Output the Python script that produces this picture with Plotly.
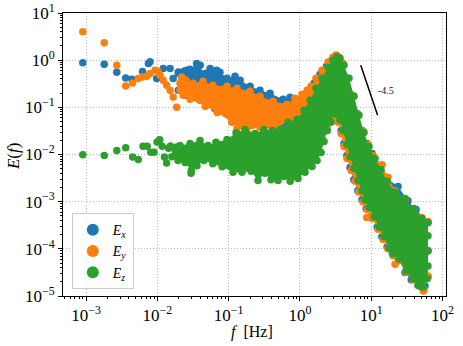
import plotly.graph_objects as go
import numpy as np

# ---- data (f in Hz, E(f)) ----
# isolated low-frequency points
ex_f = [0.0009, 0.0018, 0.0027, 0.0036, 0.0044, 0.0062, 0.0075, 0.0079, 0.0098, 0.0121,
        0.0151, 0.0167, 0.0197, 0.0256, 0.0356, 0.040, 0.055, 0.068]
ex_e = [0.88, 0.82, 0.555, 0.42, 0.394, 0.575, 0.85, 0.92, 0.41, 0.666,
        0.666, 0.41, 0.564, 0.61, 0.85, 0.78, 0.666, 0.61]

ey_f = [0.0009, 0.0018, 0.0027, 0.0036, 0.0045, 0.0054, 0.0062, 0.0071, 0.0079, 0.0093,
        0.0102, 0.0109, 0.0121, 0.0135, 0.0151, 0.0167, 0.0187, 0.0208, 0.022, 0.0245,
        8.65, 21.6, 53.8]
ey_e = [4.0, 2.33, 0.78, 0.284, 0.33, 0.41, 0.44, 0.457, 0.52, 0.61,
        0.58, 0.48, 0.375, 0.294, 0.23, 0.166, 0.101, 0.23, 0.44, 0.254,
        0.00046, 0.000047, 0.0000128]

ez_f = [0.0009, 0.0018, 0.0027, 0.0036, 0.0045, 0.0054, 0.0063, 0.0072, 0.0081, 0.009,
        0.0099, 0.0108, 0.0117, 0.0126, 0.0135, 0.0144, 0.0153, 0.0187, 0.0297]
ez_e = [0.0099, 0.0095, 0.0122, 0.0139, 0.0088, 0.0078, 0.015, 0.015, 0.0112, 0.0112,
        0.0183, 0.0206, 0.015, 0.0088, 0.0066, 0.0135, 0.0152, 0.0144, 0.0040]

# outline of the dense part of each cloud (upper edge, then lower edge back)
ex_band_f = [0.0197, 0.0237, 0.0288, 0.036, 0.048, 0.060, 0.0757, 0.095, 0.123, 0.145,
             0.20, 0.275, 0.381, 0.58, 0.726, 0.91, 1.14, 1.33, 1.58, 1.92,
             2.36, 2.80, 3.11, 3.42, 3.89, 4.56, 5.3, 6.35, 7.43, 8.77,
             10.3, 13.3, 16.7, 23.8, 32.7, 42.5, 62.5, 62.5, 62.5, 56.8,
             50.0, 36.4, 29.8, 24.5, 19.8, 16.7, 14.1, 12.1, 10.0, 8.5,
             7.43, 6.5, 5.7, 5.04, 4.56, 4.15, 3.78, 3.42, 3.2, 3.0,
             2.73, 2.4, 1.63, 1.0, 0.526, 0.275, 0.17, 0.111, 0.064, 0.040,
             0.0245, 0.0197]
ex_band_e = [0.53, 0.58, 0.64, 0.78, 0.53, 0.58, 0.555, 0.414, 0.457, 0.375,
             0.28, 0.23, 0.198, 0.148, 0.163, 0.141, 0.163, 0.219, 0.324, 0.50,
             0.745, 1.0, 1.16, 1.10, 0.86, 0.414, 0.18, 0.074, 0.0324, 0.0171,
             0.0105, 0.0058, 0.0031, 0.0021, 0.00105, 0.00068, 0.00036, 0.0000906, 0.0000253, 0.0000163,
             0.0000155, 0.000022, 0.0000314, 0.000058, 0.000079, 0.00011, 0.00018, 0.00029, 0.00048, 0.00071,
             0.0011, 0.0017, 0.0029, 0.0053, 0.0095, 0.0171, 0.0324, 0.053, 0.071, 0.078,
             0.055, 0.0324, 0.0122, 0.0199, 0.041, 0.043, 0.036, 0.058, 0.095, 0.141,
             0.18, 0.23]

ey_band_f = [0.0208, 0.0252, 0.0317, 0.0438, 0.060, 0.095, 0.131, 0.20, 0.275, 0.42,
             0.66, 0.85, 1.07, 1.26, 1.43, 1.68, 2.04, 2.48, 2.90, 3.2,
             3.53, 4.0, 4.7, 5.5, 6.5, 7.66, 9.0, 10.6, 14.2, 17.2,
             21.6, 29.8, 39.7, 51.5, 62.5, 62.5, 62.5, 55.0, 46.4, 38.5,
             30.9, 24.5, 20.2, 17.1, 14.6, 12.5, 10.3, 8.77, 7.66, 6.7,
             5.93, 5.25, 4.56, 4.15, 3.78, 3.42, 3.2, 3.11, 2.8, 2.4,
             2.04, 1.63, 1.0, 0.81, 0.447, 0.275, 0.18, 0.131, 0.111, 0.069,
             0.047, 0.0288, 0.023]
ey_band_e = [0.324, 0.375, 0.324, 0.357, 0.294, 0.28, 0.254, 0.219, 0.171, 0.134,
             0.116, 0.155, 0.189, 0.23, 0.28, 0.414, 0.61, 0.91, 1.16, 1.28,
             1.16, 0.86, 0.414, 0.18, 0.071, 0.031, 0.0163, 0.0095, 0.0061, 0.0033,
             0.0017, 0.0011, 0.00071, 0.00046, 0.00038, 0.0000906, 0.0000267, 0.0000137, 0.0000163, 0.000022,
             0.000032, 0.0000556, 0.000071, 0.0001, 0.00016, 0.00026, 0.00044, 0.00068, 0.001, 0.0016,
             0.0027, 0.0046, 0.0082, 0.0148, 0.028, 0.048, 0.064, 0.082, 0.055, 0.038,
             0.0219, 0.0122, 0.0324, 0.061, 0.034, 0.0376, 0.0324, 0.036, 0.048, 0.078,
             0.105, 0.148, 0.18]

ez_band_f = [0.0160, 0.0208, 0.0288, 0.0397, 0.0514, 0.0665, 0.095, 0.127, 0.170, 0.235,
             0.313, 0.41, 0.526, 0.68, 0.91, 1.14, 1.39, 1.68, 2.04, 2.48,
             2.90, 3.32, 3.65, 4.15, 4.88, 5.74, 6.74, 7.93, 9.31, 11.3,
             13.7, 16.7, 21.6, 29.8, 39.8, 51.5, 62.5, 62.5, 62.5, 62.5,
             60.7, 53.2, 45.2, 38.5, 30.8, 24.5, 20.2, 17.8, 15.1, 12.9,
             11.0, 9.31, 8.19, 7.43, 6.53, 5.74, 5.04, 4.56, 4.03, 3.65,
             3.32, 3.0, 2.73, 2.40, 2.18, 1.98, 1.74, 1.48, 1.18, 0.94,
             0.73, 0.598, 0.493, 0.393, 0.324, 0.258, 0.206, 0.154, 0.115, 0.081,
             0.060, 0.045, 0.036, 0.030, 0.0245, 0.0195, 0.016]
ez_band_e = [0.0141, 0.0155, 0.0171, 0.0199, 0.0155, 0.0181, 0.0209, 0.029, 0.034, 0.028,
             0.034, 0.0324, 0.034, 0.048, 0.0556, 0.0863, 0.141, 0.254, 0.414, 0.71,
             1.0, 1.19, 1.10, 0.78, 0.414, 0.171, 0.0676, 0.0294, 0.0148, 0.0082,
             0.0048, 0.0027, 0.0016, 0.00117, 0.00071, 0.00044, 0.00036, 0.000189, 0.0000906, 0.0000435,
             0.0000232, 0.0000155, 0.000017, 0.0000232, 0.000034, 0.000061, 0.000079, 0.000104, 0.00018, 0.00029,
             0.00048, 0.00075, 0.0011, 0.0017, 0.0028, 0.00504, 0.009, 0.0163, 0.0324, 0.053,
             0.071, 0.074, 0.048, 0.0324, 0.0188, 0.011, 0.00745, 0.00556, 0.0042, 0.0031,
             0.0027, 0.0034, 0.0028, 0.0029, 0.0040, 0.0028, 0.0044, 0.0042, 0.0042, 0.0055,
             0.0064, 0.0075, 0.0058, 0.0046, 0.0068, 0.0075, 0.0090]

# reference slope line
slope_f = [7.13, 12.3]
slope_e = [0.78, 0.068]
slope_label = "-4.5"
slope_label_pos = (16.1, 0.23)

# decade ticks
x_exps = [-3, -2, -1, 0, 1, 2]
y_exps = [-5, -4, -3, -2, -1, 0, 1]

series = [
    ("<i>E</i><sub><i>x</i></sub>", ex_f, ex_e, ex_band_f, ex_band_e, "#1f77b4"),
    ("<i>E</i><sub><i>y</i></sub>", ey_f, ey_e, ey_band_f, ey_band_e, "#ff7f0e"),
    ("<i>E</i><sub><i>z</i></sub>", ez_f, ez_e, ez_band_f, ez_band_e, "#2ca02c"),
]

MS = 7.5
FONT = "Liberation Serif"


def decade_labels(exps):
    return [10.0 ** k for k in exps], [f"10<sup>{'−' if k < 0 else ''}{abs(k)}</sup>" for k in exps]


fig = go.Figure()
for name, f, e, bf, be, color in series:
    # dense part of the cloud: outline filled, with markers on its vertices
    fig.add_trace(go.Scatter(
        x=bf, y=be, mode="markers", fill="toself", fillcolor=color,
        marker=dict(color=color, size=MS, line=dict(width=0)),
        line=dict(width=0, color=color), showlegend=False, hoverinfo="skip",
    ))
    fig.add_trace(go.Scatter(
        x=f, y=e, mode="markers", name=name,
        marker=dict(color=color, size=MS, line=dict(width=0)),
    ))

fig.add_trace(go.Scatter(
    x=slope_f, y=slope_e, mode="lines", line=dict(color="black", width=1.5),
    showlegend=False, hoverinfo="skip",
))

fig.add_annotation(
    x=np.log10(slope_label_pos[0]), y=np.log10(slope_label_pos[1]),
    text=slope_label, showarrow=False, font=dict(family=FONT, size=10, color="#222222"),
)

# axis titles placed as annotations so they sit where the reference has them
fig.add_annotation(
    xref="paper", yref="paper", x=0.4935, y=-0.127, yanchor="middle",
    text="<i>f</i>  [Hz]", showarrow=False, font=dict(family=FONT, size=16, color="black"),
)
fig.add_annotation(
    xref="paper", yref="paper", x=-0.1305, y=0.491, xanchor="center", yanchor="middle",
    text="<i>E</i>(<i>f</i>)", textangle=-90, showarrow=False,
    font=dict(family=FONT, size=17, color="black"),
)

axis_common = dict(
    type="log", showline=True, linecolor="black", automargin=False,
    linewidth=1, mirror=True, ticks="outside", ticklen=4, tickwidth=0.8, tickcolor="black",
    showgrid=True, gridcolor="#bbbbbb", griddash="1px,2px", gridwidth=0.8, zeroline=False,
    tickfont=dict(family=FONT, size=17, color="black"),
    minor=dict(ticks="outside", ticklen=2, tickwidth=0.6, tickcolor="black", dtick="D1", showgrid=False),
)

xt, xl = decade_labels(x_exps)
yt, yl = decade_labels(y_exps)

fig.update_layout(
    width=463, height=346,
    margin=dict(l=63, r=17, t=13, b=50, autoexpand=False),
    paper_bgcolor="white", plot_bgcolor="white",
    font=dict(family=FONT, color="black"),
    xaxis=dict(axis_common, range=[-3.323, 2.049], tickvals=xt, ticktext=xl),
    yaxis=dict(axis_common, range=[-5, 1], tickvals=yt, ticktext=yl),
    legend=dict(x=0.023, y=0.024, xanchor="left", yanchor="bottom",
                bgcolor="rgba(255,255,255,0.8)", bordercolor="#cccccc", borderwidth=1,
                font=dict(family=FONT, size=14), itemsizing="constant"),
    showlegend=True,
)

fig.write_html("out.html", config={"displayModeBar": False},
               post_script="document.body.style.margin='0';")
